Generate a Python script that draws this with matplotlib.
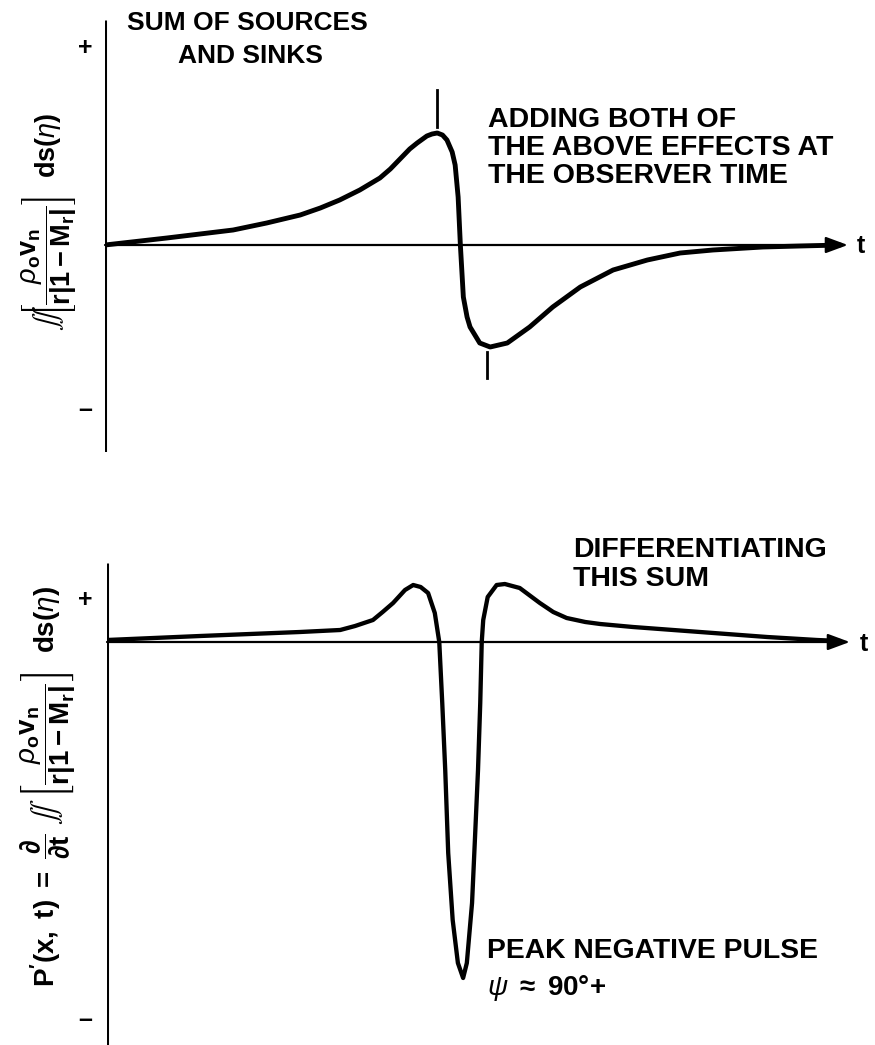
import matplotlib
matplotlib.use("Agg")
import matplotlib.pyplot as plt

plt.rcParams['font.family'] = ['Liberation Sans', 'DejaVu Sans']
plt.rcParams['mathtext.fontset'] = 'custom'
plt.rcParams['mathtext.rm'] = 'Liberation Sans:bold'
plt.rcParams['mathtext.bf'] = 'Liberation Sans:bold'
plt.rcParams['mathtext.it'] = 'Liberation Sans:italic'
plt.rcParams['mathtext.sf'] = 'Liberation Sans:bold'
plt.rcParams['mathtext.fallback'] = 'stixsans'

# ---- data (time and amplitude in arbitrary units) ----
top_t = [0.00, 0.83, 1.72, 2.17, 2.62, 2.89, 3.15, 3.42, 3.69, 3.83, 3.96, 4.09,
         4.19, 4.32, 4.39, 4.46, 4.53, 4.59, 4.66, 4.70, 4.74, 4.77, 4.81, 4.86,
         4.90, 5.03, 5.17, 5.40, 5.70, 6.01, 6.38, 6.82, 7.28, 7.72, 8.16, 8.83,
         9.33, 9.87]
top_y = [0.00, 0.07, 0.15, 0.22, 0.30, 0.37, 0.45, 0.55, 0.67, 0.76, 0.86, 0.96,
         1.02, 1.09, 1.11, 1.12, 1.10, 1.05, 0.93, 0.80, 0.48, 0.00, -0.52, -0.72,
         -0.82, -0.98, -1.02, -0.98, -0.82, -0.62, -0.42, -0.25, -0.15, -0.08, -0.05, -0.02,
         -0.01, 0.00]

bot_t = [0.00, 1.25, 1.92, 2.59, 2.86, 3.13, 3.33, 3.57, 3.70, 3.84, 4.00, 4.11,
         4.21, 4.31, 4.40, 4.46, 4.50, 4.54, 4.58, 4.64, 4.71, 4.78, 4.83, 4.90,
         4.94, 4.98, 5.01, 5.03, 5.05, 5.11, 5.23, 5.34, 5.54, 5.81, 5.99, 6.17,
         6.42, 6.62, 7.06, 7.96, 8.86, 9.53, 9.84]
bot_y = [0.02, 0.06, 0.08, 0.10, 0.11, 0.12, 0.16, 0.22, 0.30, 0.39, 0.52, 0.57,
         0.55, 0.49, 0.29, 0.00, -0.61, -1.28, -2.11, -2.78, -3.21, -3.36, -3.21, -2.61,
         -1.95, -1.28, -0.61, 0.00, 0.22, 0.45, 0.57, 0.58, 0.54, 0.39, 0.30, 0.24,
         0.20, 0.18, 0.15, 0.10, 0.05, 0.02, 0.01]

top_marks_t = [4.46, 5.13]          # peak markers (time)
top_marks_y = [(1.18, 1.55), (-1.07, -1.33)]

W, H = 875, 1045
fig = plt.figure(figsize=(W / 100, H / 100), dpi=100)


def fx(x):
    return x / W


def fy(y):
    return 1 - y / H


def make_axes(left, right, top, bottom, zero_px):
    ax = fig.add_axes([fx(left), fy(bottom), fx(right - left), (bottom - top) / H])
    scale = 74.5
    ax.set_xlim(0, (right - left) / scale)
    ax.set_ylim((zero_px - bottom) / 100, (zero_px - top) / 100)
    ax.axis('off')
    return ax


arrow = dict(arrowstyle='-|>,head_length=1.35,head_width=0.5',
             color='black', lw=1.6, shrinkA=0, shrinkB=0)

# ---------------- top panel ----------------
ax1 = make_axes(105, 850, 20, 452, 245)
y0, y1 = ax1.get_ylim()
ax1.plot([0, 0], [y0, y1], color='black', lw=2.2, solid_capstyle='butt')
ax1.annotate('', xy=(9.97, 0), xytext=(0, 0), arrowprops=arrow)
ax1.plot(top_t, top_y, color='black', lw=3.5, solid_joinstyle='round', solid_capstyle='round')
for t, (a, b) in zip(top_marks_t, top_marks_y):
    ax1.plot([t, t], [a, b], color='black', lw=2.0)

# ---------------- bottom panel ----------------
ax2 = make_axes(107, 852, 563, 1045, 642)
y0, y1 = ax2.get_ylim()
ax2.plot([0, 0], [y0, y1], color='black', lw=2.2, solid_capstyle='butt')
ax2.annotate('', xy=(9.97, 0), xytext=(0, 0), arrowprops=arrow)
ax2.plot(bot_t, bot_y, color='black', lw=3.1, solid_joinstyle='round', solid_capstyle='round')

# ---------------- texts ----------------
bold = dict(fontweight='bold', color='black')


def line(x, ybase, s, size, ha='left'):
    fig.text(fx(x), fy(ybase), s, ha=ha, va='baseline', fontsize=size, **bold)


line(247, 30, 'SUM OF SOURCES', 19, 'center')
line(250, 63, 'AND SINKS', 19, 'center')
line(488, 127, 'ADDING BOTH OF', 20.5)
line(488, 155, 'THE ABOVE EFFECTS AT', 20.5)
line(488, 183, 'THE OBSERVER TIME', 20.5)
line(573, 557, 'DIFFERENTIATING', 20.5)
line(573, 586, 'THIS SUM', 20.5)
line(487, 958, 'PEAK NEGATIVE PULSE', 20.3)
line(487, 995, r'$\psi$ $\approx$ 90°+', 20)

for (x, y, s) in [(85, 48, '+'), (85, 410, '\u2013'), (85, 600, '+'), (85, 1020, '\u2013')]:
    fig.text(fx(x), fy(y), s, ha='center', va='center', fontsize=18, **bold)

line(861, 253, 't', 18, 'center')
line(864, 651, 't', 18, 'center')

frac = r'\left[\dfrac{\rho_{\mathbf{o}}\mathbf{v}_{\mathbf{n}}}{\mathbf{r|1-M_r|}}\right]'
lab1 = r'$\iint\!' + frac + r'\ \ \mathbf{ds}(\eta)$'
lab2 = (r"$\mathbf{P'(x,\ t)}\ =\ \dfrac{\partial}{\partial\mathbf{t}}\ \iint\ " + frac
        + r'\ \ \mathbf{ds}(\eta)$')
fig.text(fx(49), fy(222), lab1, rotation=90, ha='center', va='center', fontsize=19.5, color='black')
fig.text(fx(48), fy(787), lab2, rotation=90, ha='center', va='center', fontsize=20, color='black')

fig.savefig('out.png', dpi=100, facecolor='white')
